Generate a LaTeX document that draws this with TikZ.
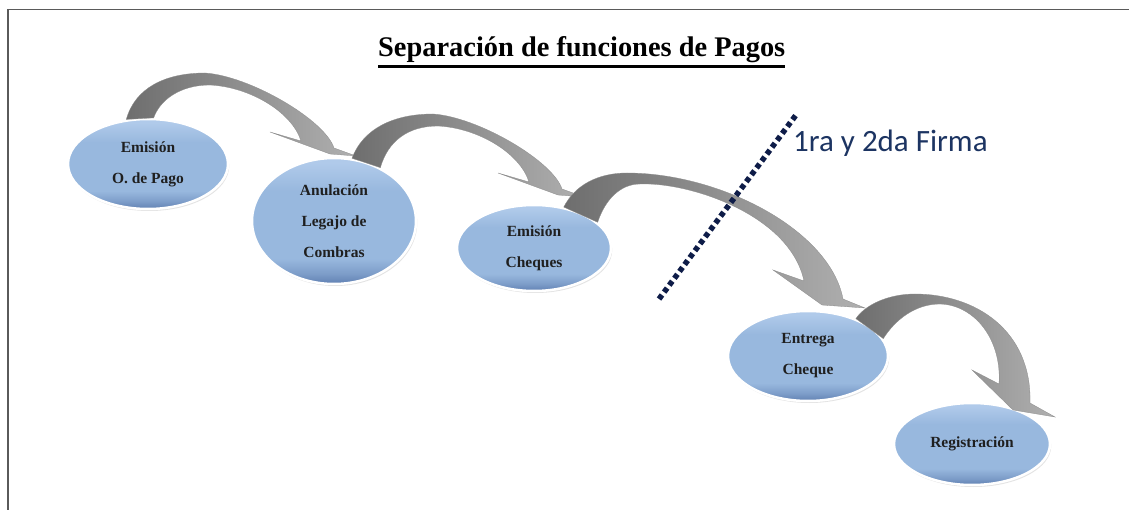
\documentclass[tikz,border=0pt]{standalone}
\usepackage{fontspec}
\setmainfont{Liberation Serif}
\newfontfamily\calibri{Carlito}
\usetikzlibrary{shapes.geometric,shadows}
\definecolor{navytext}{RGB}{28,52,98}
\definecolor{navydot}{RGB}{14,28,72}
\definecolor{bluetop}{RGB}{176,202,234}
\definecolor{bluemid}{RGB}{152,184,222}
\definecolor{bluebot}{RGB}{96,128,178}
\definecolor{arrowdark}{RGB}{110,110,110}
\definecolor{arrowlight}{RGB}{176,176,176}
\definecolor{framegray}{RGB}{90,90,90}
\pgfdeclareverticalshading{stageshade}{100bp}{color(0bp)=(bluebot); color(25bp)=(bluebot); color(29bp)=(bluebot!50!bluemid); color(35bp)=(bluemid); color(62bp)=(bluemid); color(73bp)=(bluetop); color(100bp)=(bluetop)}
\tikzset{
  stage/.style={ellipse, inner sep=0pt, draw=white, line width=2.5pt,
    shading=stageshade,
    drop shadow={opacity=0.22, shadow xshift=1.2pt, shadow yshift=-2pt},
    font=\bfseries\fontsize{15.5}{31}\selectfont, align=center, text=black!88},
  curvedarrow/.style={left color=arrowdark, right color=arrowlight,
    draw=black!45, line width=0.3pt},
  dotline/.style={draw=navydot, line width=5.5pt, dash pattern=on 5pt off 3.6pt},
  frameline/.style={draw=framegray, line width=1.3pt}
}
\begin{document}
\begin{tikzpicture}[x=1pt,y=-1pt]
\useasboundingbox (0,0) rectangle (1129,510);
\fill[white] (0,0) rectangle (1129,510);
\draw[frameline] (8,510) -- (8,9.5) -- (1129,9.5);

% title
\node[anchor=base west, inner sep=0pt, font=\bfseries\fontsize{28.4}{34}\selectfont] (title) at (378,57) {Separación de funciones de Pagos};
\draw[line width=2.8pt] ([yshift=-9.5pt]title.base west) -- ([yshift=-9.5pt]title.base east);

% stages
\node[stage, minimum width=160pt, minimum height=90pt] (e1) at (148,164) {Emisión\\O. de Pago};
\node[stage, minimum width=164pt, minimum height=126pt] (e2) at (334,221) {Anulación\\Legajo de\\Combras};
\node[stage, minimum width=154pt, minimum height=86pt] (e3) at (534,248) {Emisión\\Cheques};
\node[stage, minimum width=160pt, minimum height=90pt] (e4) at (808,356) {Entrega\\Cheque};
\node[stage, minimum width=156pt, minimum height=82pt] (e5) at (972,444) {Registración};

% curved arrows
\draw[curvedarrow] (e1.116) .. controls (135,88) and (165,73) .. (205,73)
  .. controls (250,76) and (325,120) .. (334,148)
  -- (356,156) -- (330,154) -- (270,132) -- (301,141)
  .. controls (292,112) and (250,87) .. (210,85)
  .. controls (180,85) and (160,100) .. (e1.83) -- cycle;
\draw[curvedarrow] (e2.74) .. controls (363,129) and (393,114) .. (433,114)
  .. controls (478,117) and (553,161) .. (562,189)
  -- (584,197) -- (558,195) -- (498,173) -- (529,182)
  .. controls (520,153) and (478,128) .. (438,126)
  .. controls (408,126) and (388,141) .. (e2.49) -- cycle;
\draw[curvedarrow] (e3.54) .. controls (575,185) and (598,173) .. (627,173)
  .. controls (720,173) and (830,230) .. (843,299)
  -- (865,308) -- (822,305) -- (773,270) -- (804,281)
  .. controls (790,215) and (690,182) .. (640,184)
  .. controls (620,184) and (605,200) .. (e3.22) -- cycle;
\draw[curvedarrow] (e4.38) .. controls (865,305) and (888,294) .. (915,294)
  .. controls (975,294) and (1032,330) .. (1030,403)
  -- (1055,417) -- (1013,410) -- (972,370) -- (999,384)
  .. controls (1002,340) and (975,305) .. (940,304)
  .. controls (915,304) and (895,320) .. (e4.13) -- cycle;

% signature divider
\coordinate (d1) at (659,299);
\coordinate (d2) at (796,115);
\draw[dotline] (d1) -- (d2);
\node[anchor=base west, inner sep=0pt, font=\calibri\fontsize{31}{37}\selectfont, text=navytext] (firma) at (793,152) {1ra y 2da Firma};
\end{tikzpicture}
\end{document}
